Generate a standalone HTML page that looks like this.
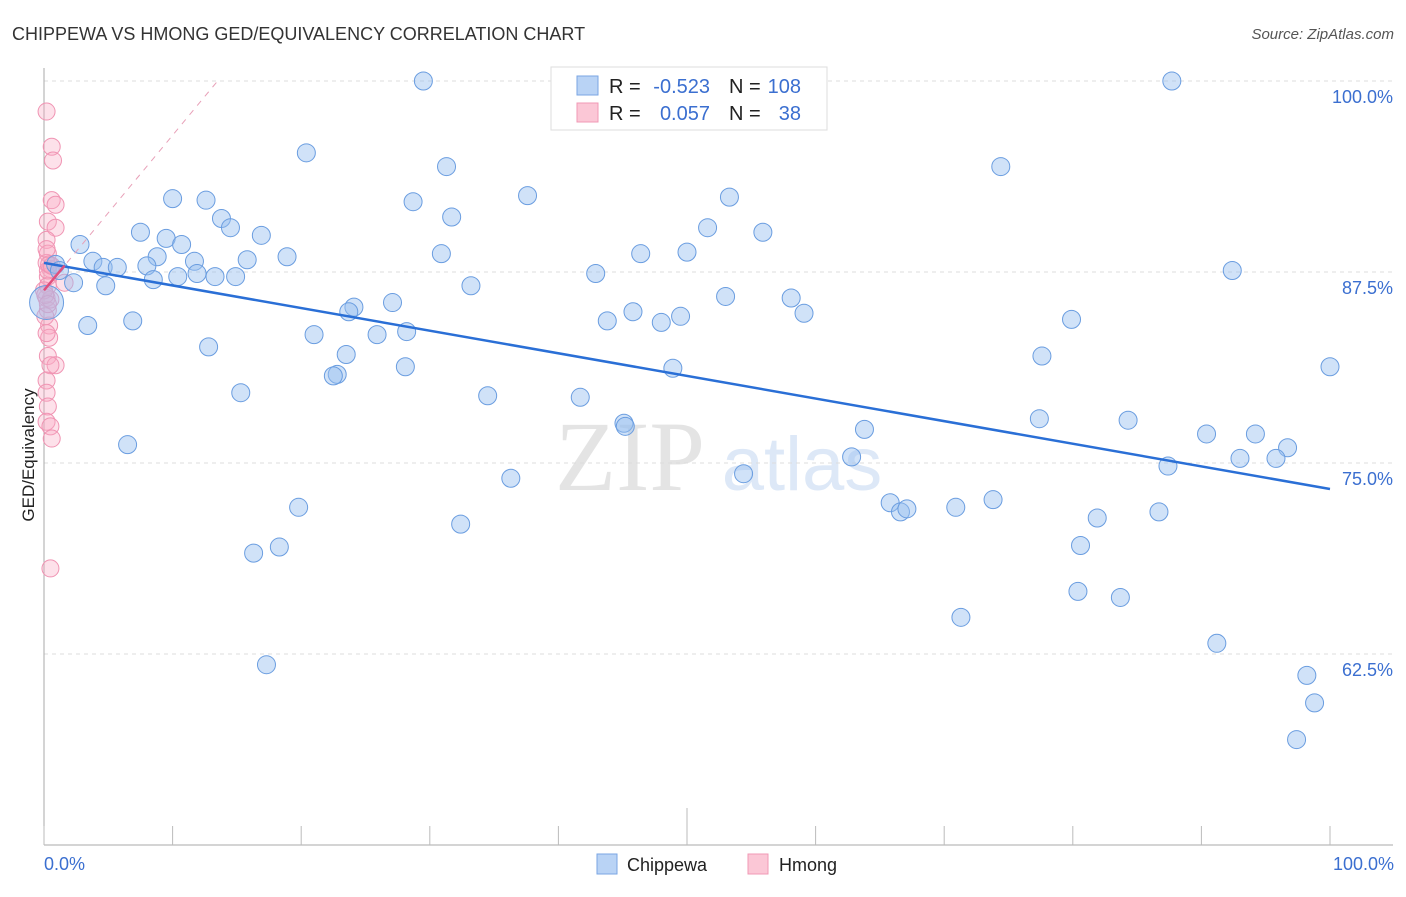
<!DOCTYPE html>
<html><head><meta charset="utf-8"><style>
body{margin:0;background:#fff;font-family:"Liberation Sans",sans-serif}
svg text{font-family:"Liberation Sans",sans-serif}
</style></head><body>
<svg width="1406" height="892" viewBox="0 0 1406 892">
<text x="12" y="40" font-size="18" fill="#333">CHIPPEWA VS HMONG GED/EQUIVALENCY CORRELATION CHART</text>
<text x="1394" y="39" font-size="15" fill="#555" font-style="italic" text-anchor="end">Source: ZipAtlas.com</text>
<text x="630" y="490" font-size="100" fill="#e4e4e4" text-anchor="middle" style="font-family:'Liberation Serif',serif">ZIP</text>
<text x="802" y="490" font-size="76" fill="#dde8f7" text-anchor="middle">atlas</text>
<g id="grid"></g>
<g id="axes"></g>
<g id="marks"></g>
<text transform="translate(34,455) rotate(-90)" font-size="17" fill="#222" text-anchor="middle">GED/Equivalency</text>
<text x="44" y="870" font-size="18" fill="#3b6fd0">0.0%</text>
<text x="1394" y="870" font-size="18" fill="#3b6fd0" text-anchor="end">100.0%</text>
<g>
<rect x="551" y="67" width="276" height="63" fill="#fff" stroke="#ddd"/>
<rect x="577" y="76" width="21" height="19" fill="#b9d3f5" stroke="#7aa6e3"/>
<rect x="577" y="103" width="21" height="19" fill="#fbc7d6" stroke="#f099b5"/>
<text x="609" y="93" font-size="20" fill="#222">R =</text>
<text x="710" y="93" font-size="20" fill="#3b6fd0" text-anchor="end">-0.523</text>
<text x="729" y="93" font-size="20" fill="#222">N =</text>
<text x="801" y="93" font-size="20" fill="#3b6fd0" text-anchor="end">108</text>
<text x="609" y="120" font-size="20" fill="#222">R =</text>
<text x="710" y="120" font-size="20" fill="#3b6fd0" text-anchor="end">0.057</text>
<text x="729" y="120" font-size="20" fill="#222">N =</text>
<text x="801" y="120" font-size="20" fill="#3b6fd0" text-anchor="end">38</text>
</g>
<g>
<rect x="597" y="854" width="20" height="20" fill="#b9d3f5" stroke="#7aa6e3"/>
<text x="627" y="871" font-size="18" fill="#222">Chippewa</text>
<rect x="748" y="854" width="20" height="20" fill="#fbc7d6" stroke="#f099b5"/>
<text x="779" y="871" font-size="18" fill="#222">Hmong</text>
</g>
</svg>
<script>
const yTicks=[100,87.5,75,62.5];
const yTickLabels=["100.0%","87.5%","75.0%","62.5%"];
const xTicks=[0,10,20,30,40,50,60,70,80,90,100];
const chippewaX=[29.5,87.7,20.4,31.3,74.4,10.0,12.6,37.6,53.3,28.7,13.8,31.7,14.5,51.6,7.5,55.9,16.9,9.5,10.7,2.8,30.9,46.4,50.0,18.9,8.8,3.8,11.7,15.8,0.9,4.6,5.7,8.0,92.4,42.9,10.4,11.9,13.3,14.9,8.5,2.3,4.8,33.2,53.0,58.1,27.1,24.1,23.7,45.8,59.1,43.8,48.0,49.5,6.9,79.9,3.4,28.2,21.0,25.9,12.8,23.5,77.6,28.1,48.9,100,22.8,22.5,15.3,34.5,41.7,45.1,45.2,77.4,84.3,63.8,90.4,94.2,6.5,96.7,62.8,93.0,95.8,87.4,54.4,36.3,73.8,65.8,66.6,67.1,70.9,19.8,86.7,81.9,32.4,80.6,18.3,16.3,80.4,83.7,71.3,91.2,17.3,98.2,98.8,97.4,0.2,1.2];
const chippewaY=[100.0,100.0,95.3,94.4,94.4,92.3,92.2,92.5,92.4,92.1,91.0,91.1,90.4,90.4,90.1,90.1,89.9,89.7,89.3,89.3,88.7,88.7,88.8,88.5,88.5,88.2,88.2,88.3,88.0,87.8,87.8,87.9,87.6,87.4,87.2,87.4,87.2,87.2,87.0,86.8,86.6,86.6,85.9,85.8,85.5,85.2,84.9,84.9,84.8,84.3,84.2,84.6,84.3,84.4,84.0,83.6,83.4,83.4,82.6,82.1,82.0,81.3,81.2,81.3,80.8,80.7,79.6,79.4,79.3,77.6,77.4,77.9,77.8,77.2,76.9,76.9,76.2,76.0,75.4,75.3,75.3,74.8,74.3,74.0,72.6,72.4,71.8,72.0,72.1,72.1,71.8,71.4,71.0,69.6,69.5,69.1,66.6,66.2,64.9,63.2,61.8,61.1,59.3,56.9,85.5,87.6];
const hmongX=[0.2,0.6,0.7,0.6,0.9,0.3,0.9,0.2,0.3,0.5,0.3,0.3,0.2,0.3,0.5,0.4,0.4,0.3,0.9,0.5,0.2,0.2,0.3,0.2,0.5,0.6,0.5,1.6,0.2,0.3,0.0,0.1,0.2,0.4,0.1,0.3,0.6,0.2];
const hmongY=[98.0,95.7,94.8,92.2,91.9,90.8,90.4,89.6,88.7,87.7,87.2,86.6,85.8,85.0,85.7,84.0,83.2,82.0,81.4,81.4,80.4,79.6,78.7,77.7,77.4,76.6,68.1,86.8,88.1,87.6,86.3,84.6,89.0,88.0,86.0,85.4,87.9,83.5];
const chippewaTrend=[[0,88.1],[100,73.3]];
const hmongTrend=[[0,86.3],[13.5,100]];
const NS='http://www.w3.org/2000/svg';
const X=v=>44+v*12.86, Y=v=>81+(100-v)*15.28;
function mk(t,a,p){const e=document.createElementNS(NS,t);for(const k in a)e.setAttribute(k,a[k]);p.appendChild(e);return e;}
const grid=document.getElementById('grid'),axes=document.getElementById('axes'),marks=document.getElementById('marks');
yTicks.forEach((t,i)=>{const l=mk('line',{x1:44,x2:1393,y1:Y(t),y2:Y(t),stroke:'#ddd','stroke-dasharray':'4,4'},grid);


const tx=mk('text',{x:1393,y:Y(t)+22,'font-size':18,fill:'#3b6fd0','text-anchor':'end'},grid);tx.textContent=yTickLabels[i];

});
const ya=mk('line',{x1:44,x2:44,y1:68,y2:845,stroke:'#aaa'},axes);


const xa=mk('line',{x1:44,x2:1393,y1:845,y2:845,stroke:'#aaa'},axes);


xTicks.forEach(t=>{const l=mk('line',{x1:X(t),x2:X(t),y1:t==50?808:826,y2:845,stroke:'#bbb'},axes);

});
hmongX.forEach((x,i)=>{const c=mk('circle',{cx:X(x),cy:Y(hmongY[i]),r:8.5,fill:'rgba(248,170,195,0.35)',stroke:'#f094b3','stroke-width':1},marks);

});
chippewaX.forEach((x,i)=>{const big=i==chippewaX.length-2;const c=mk('circle',{cx:X(x),cy:Y(chippewaY[i]),r:big?17:9,fill:'rgba(150,190,240,0.45)',stroke:'#6a9de0','stroke-width':1},marks);

});
const bt=mk('line',{x1:X(chippewaTrend[0][0]),y1:Y(chippewaTrend[0][1]),x2:X(chippewaTrend[1][0]),y2:Y(chippewaTrend[1][1]),stroke:'#2a6fd6','stroke-width':2.5},marks);


const ht=mk('line',{x1:X(hmongTrend[0][0]),y1:Y(hmongTrend[0][1]),x2:X(hmongTrend[1][0]),y2:Y(hmongTrend[1][1]),stroke:'#e8a0b8','stroke-width':1,'stroke-dasharray':'6,6'},marks);


const hs=mk('line',{x1:X(0),y1:Y(hmongTrend[0][1]),x2:X(1.6),y2:Y(hmongTrend[0][1]+1.6*(hmongTrend[1][1]-hmongTrend[0][1])/hmongTrend[1][0]),stroke:'#e0507e','stroke-width':2.5},marks);


</script>
</body></html>
